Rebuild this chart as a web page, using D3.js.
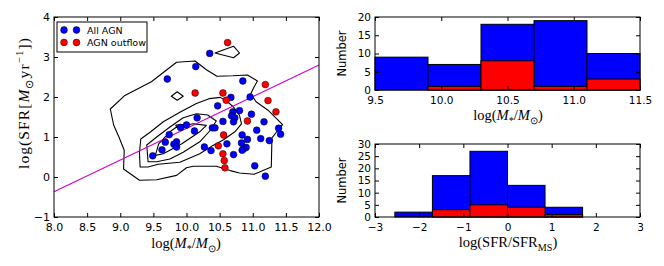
<!DOCTYPE html>
<html>
<head>
<meta charset="utf-8">
<script src="https://cdn.jsdelivr.net/npm/d3@7"></script>
<style>
  body { margin: 0; background: #fff; }
</style>
</head>
<body>
<svg id="fig" width="664" height="266" font-family="DejaVu Sans"></svg>
<script>
// scatter: [log M*, log SFR]
var allAgn = [
  [10.35, 3.09], [10.14, 2.76], [9.71, 2.45], [10.85, 2.40], [10.67, 1.99], [10.96, 2.00],
  [10.47, 1.78], [10.80, 1.66], [10.70, 1.63], [10.68, 1.53], [10.73, 1.48], [10.71, 1.38],
  [10.55, 1.39], [10.98, 1.57], [11.17, 1.38], [11.06, 1.17], [10.39, 1.23], [10.43, 1.23],
  [11.39, 1.22], [11.42, 1.07], [10.84, 1.05], [10.92, 0.94], [10.83, 0.85], [11.12, 0.96],
  [11.25, 0.91], [10.90, 0.74], [10.86, 0.70], [10.84, 0.67], [10.61, 0.83], [10.27, 0.75],
  [10.37, 0.66], [10.71, 0.56], [11.03, 0.28], [11.19, 0.02], [10.16, 1.48], [9.91, 1.24],
  [10.00, 1.30], [10.12, 1.15], [9.74, 1.06], [9.68, 0.87], [9.85, 0.88], [9.81, 0.82],
  [9.85, 0.75], [9.63, 0.68], [9.49, 0.53]
];
var outflowAgn = [
  [10.62, 3.36], [11.19, 2.31], [10.55, 2.10], [10.13, 2.10], [10.60, 1.92], [11.23, 1.91],
  [11.35, 1.63], [10.92, 1.40], [10.56, 1.05], [10.48, 0.78], [10.55, 0.58], [10.57, 0.41],
  [10.58, 0.23]
];
// main sequence line
var msLine = [[8.0, -0.37], [12.0, 2.80]];

// density contours of the parent sample
var contours = [
  [[8.85,1.70],[9.07,2.04],[9.47,2.38],[9.85,2.87],[10.13,2.90],[10.30,2.68],[10.46,2.52],
   [10.70,2.53],[10.92,2.55],[11.07,2.40],[11.02,2.25],[10.97,2.08],[11.05,1.88],[11.23,1.67],
   [11.45,1.31],[11.37,1.15],[11.29,0.98],[11.28,0.25],[11.02,0.07],[10.80,0.10],[10.66,0.16],
   [10.45,0.27],[10.10,0.27],[10.00,0.23],[9.85,0.04],[9.55,-0.07],[9.29,-0.08],[9.05,0.20],
   [9.06,0.67],[8.98,1.00],[8.90,1.30]],
  [[9.30,0.25],[9.29,0.60],[9.31,0.95],[9.45,1.12],[9.65,1.38],[9.90,1.62],[10.15,1.84],
   [10.35,1.96],[10.51,1.99],[10.62,1.88],[10.71,1.75],[10.80,1.54],[10.83,1.33],[10.73,1.13],
   [10.56,0.93],[10.40,0.79],[10.20,0.58],[9.90,0.37],[9.57,0.32],[9.42,0.25]],
  [[9.42,0.38],[9.40,0.80],[9.55,1.00],[9.75,1.25],[9.95,1.48],[10.15,1.58],[10.32,1.55],
   [10.45,1.40],[10.35,1.15],[10.20,0.88],[9.95,0.62],[9.75,0.45],[9.55,0.38]],
  [[9.53,0.54],[9.58,0.83],[9.75,1.13],[9.85,1.25],[10.10,1.33],[10.30,1.29],[10.20,1.13],
   [9.93,0.83],[9.65,0.58]],
  [[9.84,1.30],[9.97,1.31],[9.96,1.22],[9.85,1.24]],
  [[9.77,2.02],[9.86,2.13],[9.95,2.02],[9.86,1.92]],
  [[10.43,3.10],[10.71,3.27],[10.80,3.10],[10.71,2.98]]
];

// histograms
var massEdges = [9.5, 9.9, 10.3, 10.7, 11.1, 11.5];
var massAll = [9, 7, 18, 19, 10];
var massOut = [0, 1, 8, 1, 3];
var sfrEdges = [-2.55, -1.70, -0.85, 0, 0.85, 1.70];
var sfrAll = [2, 17, 27, 13, 4];
var sfrOut = [0, 3, 5, 4, 1];

var massTicks = [9.5, 10.0, 10.5, 11.0, 11.5],
    sfrTicks = [-3, -2, -1, 0, 1, 2, 3];

var BLUE = "#0000ff", RED = "#ff0000", MAG = "#cc00cc";
var SERIF = "Liberation Serif";
var svg = d3.select("#fig");

// frame + inward ticks on all four sides
function axes(g, sx, sy, xt, yt, xf, yf, fs, pad) {
  var x0 = sx.range()[0], x1 = sx.range()[1], y0 = sy.range()[1], y1 = sy.range()[0];
  g.append("g").attr("transform", "translate(0," + y1 + ")")
    .call(d3.axisBottom(sx).tickValues(xt).tickFormat(xf).tickSizeInner(-4).tickSizeOuter(0).tickPadding(pad));
  g.append("g").attr("transform", "translate(0," + y0 + ")")
    .call(d3.axisTop(sx).tickValues(xt).tickFormat("").tickSizeInner(-4).tickSizeOuter(0));
  g.append("g").attr("transform", "translate(" + x0 + ",0)")
    .call(d3.axisLeft(sy).tickValues(yt).tickFormat(yf).tickSizeInner(-4).tickSizeOuter(0).tickPadding(4));
  g.append("g").attr("transform", "translate(" + x1 + ",0)")
    .call(d3.axisRight(sy).tickValues(yt).tickFormat("").tickSizeInner(-4).tickSizeOuter(0));
  g.selectAll(".domain").remove();
  g.selectAll("g").attr("font-family", null).attr("font-size", null);
  g.selectAll(".tick text").attr("font-size", fs).attr("font-family", "DejaVu Sans").attr("fill", "#000");
  g.selectAll(".tick line").attr("stroke", "#000");
  g.append("rect").attr("x", x0).attr("y", y0).attr("width", x1 - x0).attr("height", y1 - y0)
    .attr("fill", "none").attr("stroke", "#000").attr("stroke-width", 1);
}

// mathtext-like label: [text, shift, italic]
function mathLabel(t, parts, size) {
  var cur = 0;
  t.attr("font-family", SERIF).attr("font-size", size);
  parts.forEach(function(p) {
    var shift = p[1] == "sub" ? 0.28 * size : p[1] == "sup" ? -0.42 * size : 0;
    var s = t.append("tspan").text(p[0]).attr("dy", shift - cur);
    if (shift) s.attr("font-size", size * 0.7);
    if (p[2]) s.attr("font-style", "italic");
    cur = shift;
  });
}
var massLabel = [["log(", 0], ["M", 0, 1], ["*", "sub"], ["/", 0], ["M", 0, 1], ["\u2299", "sub"], [")", 0]];

// ---- left: SFR vs mass
var sx = d3.scaleLinear().domain([8, 12]).range([54, 319]),
    sy = d3.scaleLinear().domain([-1, 4]).range([217, 17]);
var left = svg.append("g");
var line = d3.line().x(function(d) { return sx(d[0]); }).y(function(d) { return sy(d[1]); });

left.selectAll("path.cont").data(contours).enter().append("path")
  .attr("class", "cont")
  .attr("d", function(d) { return line(d) + "Z"; })
  .attr("fill", "none").attr("stroke", "#000").attr("stroke-width", 1.1).attr("stroke-linejoin", "round");

left.append("path").attr("d", line(msLine)).attr("stroke", MAG).attr("stroke-width", 1.1).attr("fill", "none");

function dots(data, col) {
  left.append("g").selectAll("circle").data(data).enter().append("circle")
    .attr("cx", function(d) { return sx(d[0]); })
    .attr("cy", function(d) { return sy(d[1]); })
    .attr("r", 3.4).attr("fill", col).attr("stroke", "#000").attr("stroke-width", 0.5);
}
dots(allAgn, BLUE);
dots(outflowAgn, RED);

axes(left, sx, sy, d3.range(8, 12.01, 0.5), d3.range(-1, 4.01, 1), d3.format(".1f"), d3.format("d"), 11, 6);

// legend
var leg = left.append("g");
leg.append("rect").attr("x", 57).attr("y", 22).attr("width", 90).attr("height", 30)
  .attr("fill", "#fff").attr("stroke", "#000").attr("stroke-width", 1);
[["All AGN", BLUE, 30], ["AGN outflow", RED, 42.5]].forEach(function(r) {
  [64, 76.5].forEach(function(cx) {
    leg.append("circle").attr("cx", cx).attr("cy", r[2]).attr("r", 3.4)
      .attr("fill", r[1]).attr("stroke", "#000").attr("stroke-width", 0.5);
  });
  leg.append("text").attr("x", 87).attr("y", r[2] + 3.5).attr("font-size", 9.5).text(r[0]);
});

var xl = left.append("text").attr("x", 186).attr("y", 248).attr("text-anchor", "middle");
mathLabel(xl, massLabel, 14.5);
var yl = left.append("text").attr("transform", "translate(29,103) rotate(-90)")
  .attr("text-anchor", "middle").attr("letter-spacing", 1.1);
mathLabel(yl, [["log(SFR[", 0], ["M", 0, 1], ["\u2299", "sub"], ["yr", 0], ["\u22121", "sup"], ["])", 0]], 15.5);

// ---- histograms
function hist(y0, y1, xdom, ymax, yStep, edges, all, out, xt, xf, labelParts) {
  var hx = d3.scaleLinear().domain(xdom).range([375, 640]),
      hy = d3.scaleLinear().domain([0, ymax]).range([y1, y0]);
  var g = svg.append("g");
  [[all, BLUE], [out, RED]].forEach(function(s) {
    g.append("g").selectAll("rect").data(s[0]).enter().append("rect")
      .attr("x", function(d, i) { return hx(edges[i]); })
      .attr("width", function(d, i) { return hx(edges[i + 1]) - hx(edges[i]); })
      .attr("y", function(d) { return hy(d); })
      .attr("height", function(d) { return hy(0) - hy(d); })
      .attr("fill", s[1]).attr("stroke", "#000").attr("stroke-width", 1);
  });
  axes(g, hx, hy, xt, d3.range(0, ymax + 0.01, yStep), xf, d3.format("d"), 10.5, 7);
  g.append("text").attr("transform", "translate(346," + (y0 + y1) / 2 + ") rotate(-90)")
    .attr("text-anchor", "middle").attr("font-size", 11.5).text("Number");
  var t = g.append("text").attr("x", 508).attr("y", y1 + 30).attr("text-anchor", "middle");
  mathLabel(t, labelParts, 14.5);
}
hist(17, 90, [9.5, 11.5], 20, 5, massEdges, massAll, massOut, massTicks, d3.format(".1f"), massLabel);
hist(144, 217, [-3, 3], 30, 5, sfrEdges, sfrAll, sfrOut, sfrTicks, d3.format("d"),
  [["log(SFR/SFR", 0], ["MS", "sub"], [")", 0]]);
</script>
</body>
</html>
